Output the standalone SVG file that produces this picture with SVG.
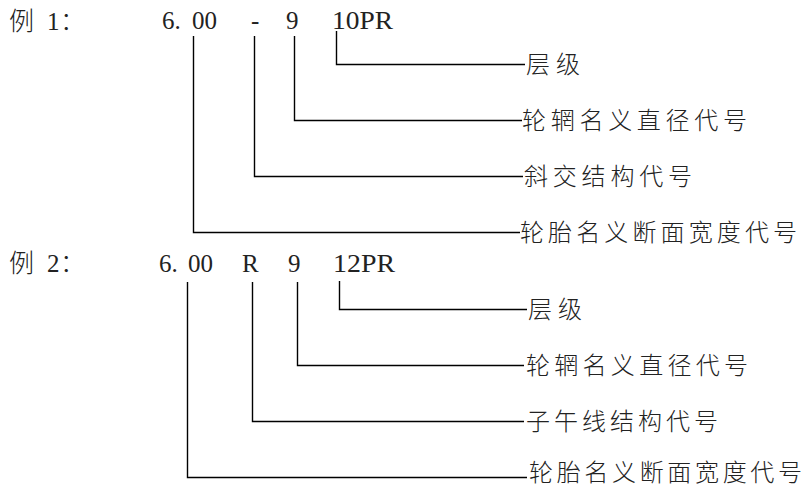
<svg xmlns="http://www.w3.org/2000/svg" width="806" height="488" viewBox="0 0 806 488">
<style>
.code{font-family:"Liberation Serif","Noto Sans CJK SC",serif;font-size:25px;fill:#222}
.hd{font-family:"Noto Sans CJK SC",sans-serif;font-size:25px;font-weight:300;fill:#222}
.lbl{font-family:"Noto Sans CJK SC",sans-serif;font-size:24px;font-weight:300;fill:#222}
.ln{fill:none;stroke:#000;stroke-width:1.4}
</style>
<rect width="806" height="488" fill="#fff"/>
<g id="ex1-code">
<text class="hd" x="9" y="30">例</text>
<text class="code" x="47" y="30">1</text>
<text class="hd" x="60" y="30">：</text>
<text class="code" x="162" y="29">6.</text>
<text class="code" x="192" y="29">00</text>
<text class="code" x="251" y="29">-</text>
<text class="code" x="286" y="29">9</text>
<text class="code" x="332" y="29" textLength="61" lengthAdjust="spacingAndGlyphs">10PR</text>
</g>
<g id="ex2-code">
<text class="hd" x="9" y="272">例</text>
<text class="code" x="47" y="272">2</text>
<text class="hd" x="60" y="272">：</text>
<text class="code" x="159" y="272">6.</text>
<text class="code" x="188" y="272">00</text>
<text class="code" x="242" y="272">R</text>
<text class="code" x="288" y="272">9</text>
<text class="code" x="333" y="272" textLength="62" lengthAdjust="spacingAndGlyphs">12PR</text>
</g>
<g id="connectors">
<path class="ln" d="M336.5 31V64.5H525"/>
<path class="ln" d="M294.5 36V120.5H522"/>
<path class="ln" d="M254.5 36V176.5H523"/>
<path class="ln" d="M193.5 36V232.5H520"/>
<path class="ln" d="M339.5 281V309.5H527"/>
<path class="ln" d="M297.5 282V365.5H524"/>
<path class="ln" d="M252.5 282V421.5H524"/>
<path class="ln" d="M187.5 282V477.5H527"/>
</g>
<g id="ex1-l1"><text class="lbl" x="526" y="73" textLength="54">层级</text></g>
<g id="ex1-l2"><text class="lbl" x="522" y="129" textLength="225">轮辋名义直径代号</text></g>
<g id="ex1-l3"><text class="lbl" x="524" y="185" textLength="168">斜交结构代号</text></g>
<g id="ex1-l4"><text class="lbl" x="520" y="241" textLength="277">轮胎名义断面宽度代号</text></g>
<g id="ex2-l1"><text class="lbl" x="528" y="318" textLength="54">层级</text></g>
<g id="ex2-l2"><text class="lbl" x="526" y="374" textLength="222">轮辋名义直径代号</text></g>
<g id="ex2-l3"><text class="lbl" x="526" y="430" textLength="192">子午线结构代号</text></g>
<g id="ex2-l4"><text class="lbl" x="529" y="481" textLength="273">轮胎名义断面宽度代号</text></g>
</svg>
